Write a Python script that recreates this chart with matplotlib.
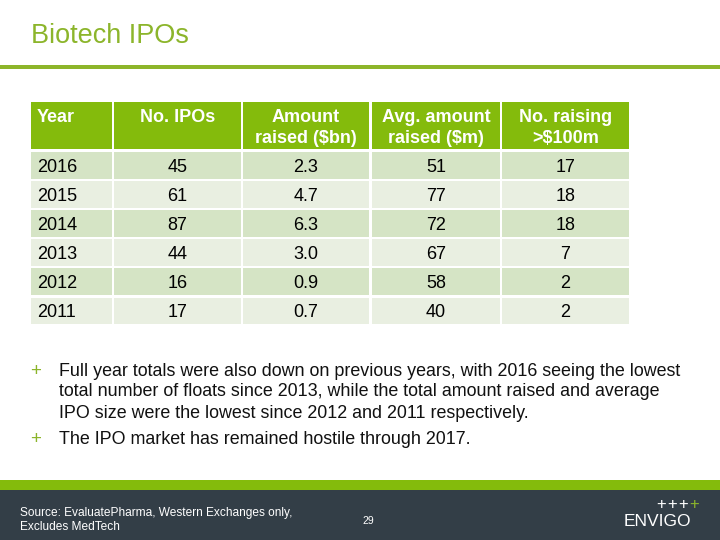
import matplotlib
matplotlib.use("Agg")
import matplotlib.pyplot as plt
from matplotlib.patches import Rectangle

plt.rcParams['font.family'] = ['Liberation Sans', 'DejaVu Sans']

title = "Biotech IPOs"
headers = ["Year", "No. IPOs", "Amount\nraised ($bn)", "Avg. amount\nraised ($m)", "No. raising\n>$100m"]
years = ["2016", "2015", "2014", "2013", "2012", "2011"]
num_ipos = ["45", "61", "87", "44", "16", "17"]
amount_bn = ["2.3", "4.7", "6.3", "3.0", "0.9", "0.7"]
avg_amount_m = ["51", "77", "72", "67", "58", "40"]
num_over_100m = ["17", "18", "18", "7", "2", "2"]
bullets = [
    ["Full year totals were also down on previous years, with 2016 seeing the lowest",
     "total number of floats since 2013, while the total amount raised and average",
     "IPO size were the lowest since 2012 and 2011 respectively."],
    ["The IPO market has remained hostile through 2017."],
]
source_lines = ["Source: EvaluatePharma, Western Exchanges only,", "Excludes MedTech"]
page = "29"

GREEN = "#84bb0c"
TITLE_GREEN = "#8cb52b"
DARK = "#333e47"
ROW_A = "#d5e4c5"
ROW_B = "#e9efe1"

fig = plt.figure(figsize=(7.2, 5.4), dpi=100)
ax = fig.add_axes([0, 0, 1, 1])
ax.set_xlim(0, 720)
ax.set_ylim(540, 0)
ax.axis('off')

# title and rule
ax.text(31, 36, title, color=TITLE_GREEN, fontsize=19.5, va='center', ha='left')
ax.add_patch(Rectangle((0, 65), 720, 4, color="#8db52a", lw=0))

# table
col_l = [31, 114, 243, 372, 502]
col_r = [112, 241, 369, 500, 629]
head_top, head_bot = 102, 149
row_h = 29.1
row_top0 = 152
columns = [years, num_ipos, amount_bn, avg_amount_m, num_over_100m]
FS = 13

for j, h in enumerate(headers):
    ax.add_patch(Rectangle((col_l[j], head_top), col_r[j] - col_l[j], head_bot - head_top, color=GREEN, lw=0))
    lines = h.split("\n")
    for k, ln in enumerate(lines):
        y = 122.5 + 20.5 * k
        if j == 0:
            ax.text(col_l[j] + 6, y, ln, color='white', fontsize=FS, fontweight='bold', va='baseline', ha='left')
        else:
            ax.text((col_l[j] + col_r[j]) / 2, y, ln, color='white', fontsize=FS, fontweight='bold',
                    va='baseline', ha='center')

for i in range(len(years)):
    top = row_top0 + i * row_h
    color = ROW_A if i % 2 == 0 else ROW_B
    for j, col in enumerate(columns):
        ax.add_patch(Rectangle((col_l[j], top), col_r[j] - col_l[j], row_h - 2.3, color=color, lw=0))
        yb = top + 19.5
        if j == 0:
            ax.text(col_l[j] + 6, yb, col[i], color='black', fontsize=FS, va='baseline', ha='left')
        else:
            ax.text((col_l[j] + col_r[j]) / 2, yb, col[i], color='black', fontsize=FS, va='baseline', ha='center')

# bullets
b_y = [375.5, 444.5]
for y, b in zip(b_y, bullets):
    ax.text(36, y, "+", color=TITLE_GREEN, fontsize=13.5, va='baseline', ha='center')
    for k, ln in enumerate(b):
        ax.text(59, y + 21 * k, ln, color='#111111', fontsize=12.9, va='baseline', ha='left')

# footer
ax.add_patch(Rectangle((0, 480), 720, 10, color=GREEN, lw=0))
ax.add_patch(Rectangle((0, 490), 720, 50, color=DARK, lw=0))
for k, ln in enumerate(source_lines):
    ax.text(20, 516 + 13.5 * k, ln, color='white', fontsize=8.6, va='baseline', ha='left')
ax.text(368, 524, page, color='white', fontsize=7.5, va='baseline', ha='center')
for k, px in enumerate([661, 672, 683, 694]):
    ax.text(px, 505, "+", color=(TITLE_GREEN if k == 3 else 'white'), fontsize=12, va='center', ha='center')
ax.text(657, 522, "ENVIGO", color='white', fontsize=12.5, va='center', ha='center')

fig.savefig("out.png", dpi=100)
